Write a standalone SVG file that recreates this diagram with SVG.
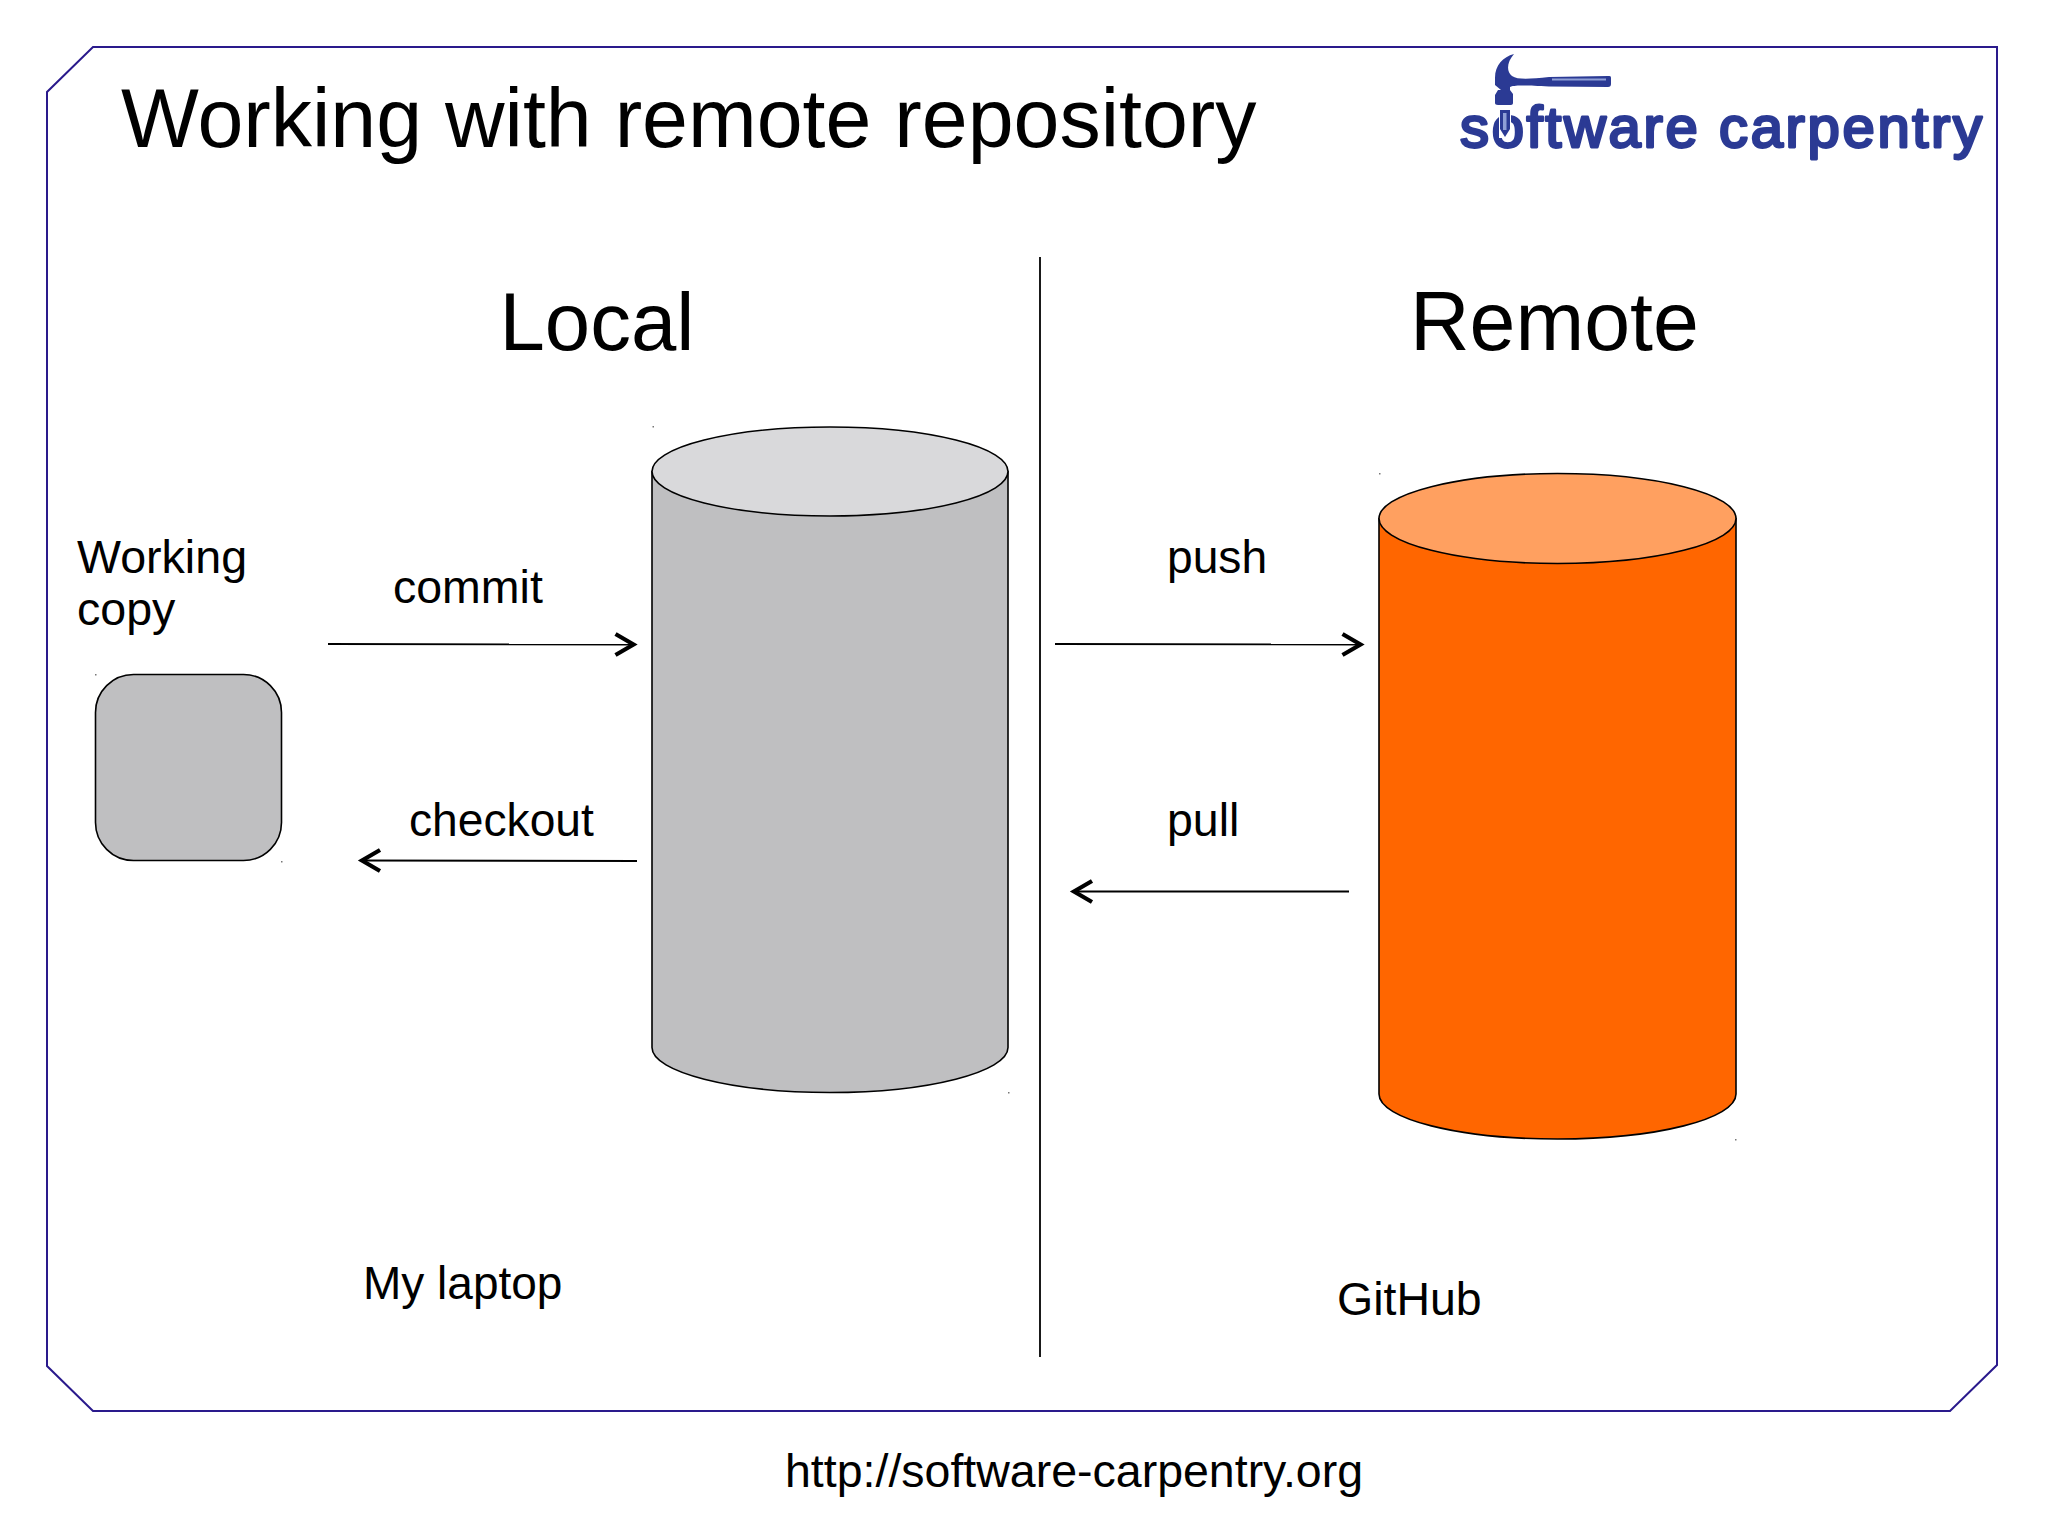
<svg xmlns="http://www.w3.org/2000/svg" width="2048" height="1535" viewBox="0 0 2048 1535">
<style>
text{font-family:"Liberation Sans",Arial,sans-serif;fill:#000}
.t{font-size:46.500px}
.h{font-size:82.500px}
.side{stroke:#000;stroke-width:1.6}
.top{stroke:#000;stroke-width:1.6}
.c{fill:none;stroke:#000;stroke-width:1.8}
.logo{fill:#2b3a94}
.speck{fill:#777}
</style>
<defs>
<marker id="open" markerUnits="userSpaceOnUse" markerWidth="30" markerHeight="34" refX="22.500" refY="12" orient="auto" overflow="visible">
<path d="M3 1.500 L21 12 L3 22.500" fill="none" stroke="#000" stroke-width="4.200"/>
</marker>
</defs>
<rect width="2048" height="1535" fill="#fff"/>
<path id="frame" d="M93 47H1997V1365L1950 1411H93L47 1366V92Z" fill="none" stroke="#2a1a8c" stroke-width="2"/>
<text id="title" x="121" y="146.500" font-size="82.500">Working with remote repository</text>
<g id="logo">
<path class="logo" d="M1514 54C1503 57 1495 65 1495 78V85L1501 90H1498L1495 95V103C1495 104 1496 105 1498 105H1511C1512 105 1513 104 1513 103V94L1510 90V87C1514 85 1522 85 1549 86.500L1608 87C1610 87 1611 86 1611 84V78C1611 76 1610 76 1608 76L1549 77C1530 79 1518 80 1512 76C1506 71 1507 62 1514 54Z"/>
<rect x="1552" y="78.500" width="54" height="2" fill="#8f9fd6"/>
<text id="logotext" style="fill:#2b3a94;stroke:#2b3a94;stroke-width:2.800;stroke-linejoin:round;stroke-linecap:round" x="1460" y="147" font-size="58" textLength="522" lengthAdjust="spacing">software carpentry</text>
<rect x="1499" y="108" width="12" height="30" fill="#fff"/>
<path class="logo" d="M1500 110H1510V129L1505 137L1500 129Z"/>
<rect x="1503" y="113" width="3.500" height="17" fill="#8f9fd6"/>
</g>
<g id="connectors">
<line id="divider" x1="1040" y1="257" x2="1040" y2="1357" stroke="#000" stroke-width="1.800"/>
<line id="commit-arrow" class="c" x1="328" y1="644" x2="635" y2="644.500" marker-end="url(#open)"/>
<line id="checkout-arrow" class="c" x1="637" y1="861" x2="360.500" y2="860.500" marker-end="url(#open)"/>
<line id="push-arrow" class="c" x1="1055" y1="644" x2="1362" y2="644.500" marker-end="url(#open)"/>
<line id="pull-arrow" class="c" x1="1349" y1="891.500" x2="1072.500" y2="891.500" marker-end="url(#open)"/>
</g>
<g id="working-copy">
<rect x="95.500" y="674.500" width="186" height="186" rx="38" ry="38" fill="#bfbfc1" stroke="#000" stroke-width="1.600"/>
<text class="t" x="77" y="573" style="font-size:46.600px">Working</text>
<text class="t" x="77" y="625" style="font-size:46.600px">copy</text>
</g>
<g id="local-repo">
<path class="side" fill="#bfbfc1" d="M652 471.500V1047.500C652 1072 732 1092.500 830 1092.500C928 1092.500 1008 1072 1008 1047.500V471.500Z"/>
<ellipse class="top" cx="830" cy="471.500" rx="178" ry="44.500" fill="#d9d9db"/>
</g>
<g id="remote-repo">
<path class="side" fill="#ff6600" d="M1379 518.500V1094C1379 1119 1459 1139 1557.500 1139C1656 1139 1736 1119 1736 1094V518.500Z"/>
<ellipse class="top" cx="1557.500" cy="518.500" rx="178.500" ry="45" fill="#ffa060"/>
</g>
<text class="h" x="499.500" y="350" style="font-size:81.500px">Local</text>
<text class="h" x="1410" y="350">Remote</text>
<text class="t" x="393" y="603">commit</text>
<text class="t" x="409" y="835.500" style="font-size:46.200px">checkout</text>
<text class="t" x="1167" y="573" style="font-size:46.200px">push</text>
<text class="t" x="1167" y="835.500">pull</text>
<text class="t" x="363" y="1299" style="font-size:46px">My laptop</text>
<text class="t" x="1337" y="1315">GitHub</text>
<text class="t" x="785" y="1487">http://software-carpentry.org</text>
<g id="specks">
<rect class="speck" x="652.500" y="426" width="1.500" height="1.500"/>
<rect class="speck" x="1008" y="1092" width="1.500" height="1.500"/>
<rect class="speck" x="1379" y="473" width="1.500" height="1.500"/>
<rect class="speck" x="1735" y="1139" width="1.500" height="1.500"/>
<rect class="speck" x="95" y="674" width="1.500" height="1.500"/>
<rect class="speck" x="281" y="861" width="1.500" height="1.500"/>
</g>
</svg>
